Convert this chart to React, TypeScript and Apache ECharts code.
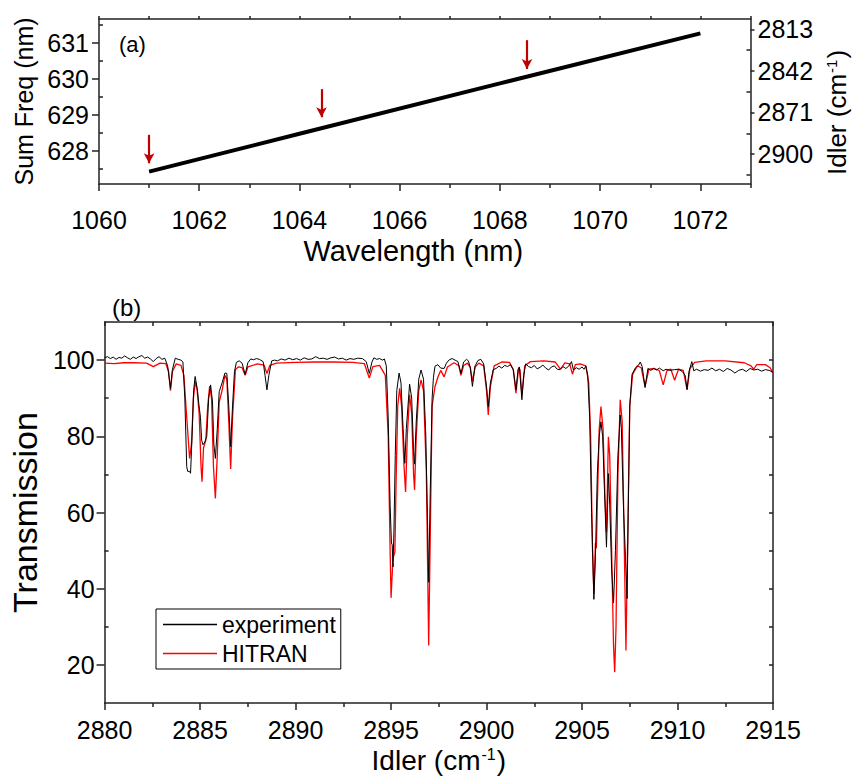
import React, { useEffect, useRef } from "react";
import * as echarts from "echarts";

// ---- Panel (a): sum frequency vs pump wavelength ----
const pumpWavelength = [1061, 1064, 1068, 1072];
const sumFrequency = [627.42, 628.47, 629.87, 631.26];
const arrowWavelength = [1061, 1064.44, 1068.54];
const arrowTop = [628.44, 629.71, 631.07];
const arrowTip = [627.65, 628.93, 630.27];
const wavelengthTicks = [1060, 1062, 1064, 1066, 1068, 1070, 1072];
const wavelengthMinor = [1061, 1063, 1065, 1067, 1069, 1071, 1073];
const sumFreqTicks = [628, 629, 630, 631];
const sumFreqMinor = [627.5, 628.5, 629.5, 630.5, 631.5];
const idlerTicks = [2813, 2842, 2871, 2900];
const idlerMinor = [2827.5, 2856.5, 2885.5, 2914.5];

// ---- Panel (b): transmission spectra ----
const transTicks = [20, 40, 60, 80, 100];
const transMinor = [30, 50, 70, 90];
const transRight = [20, 30, 40, 50, 60, 70, 80, 90, 100];

const hitranData: [number, number][] = [
  [2880, 99.2], [2880.5, 99.1], [2881, 99.3], [2881.5, 99.3], [2882.2, 99.2], [2882.55, 98.3], [2882.9, 99.2],
  [2883.2, 99.1], [2883.35, 97], [2883.45, 92.0], [2883.55, 97], [2883.75, 99.0], [2884.0, 98.6], [2884.15, 96],
  [2884.3, 85], [2884.45, 74.2], [2884.55, 78], [2884.65, 90], [2884.75, 94.4], [2884.85, 92], [2884.95, 86],
  [2885.05, 72], [2885.1, 68.1], [2885.18, 77], [2885.3, 79], [2885.4, 88], [2885.5, 93.2], [2885.6, 90],
  [2885.7, 72], [2885.8, 63.7], [2885.9, 75], [2886.0, 89], [2886.15, 92], [2886.3, 96], [2886.4, 95],
  [2886.5, 84], [2886.6, 71.4], [2886.7, 85], [2886.85, 97.5], [2887.0, 98.2], [2887.2, 98.0], [2887.36, 96.0],
  [2887.5, 98.2], [2888.0, 99.0], [2888.35, 98.7], [2888.5, 96.5], [2888.65, 98.6], [2889, 99.2], [2890, 99.4],
  [2891, 99.5], [2892, 99.5], [2893, 99.4], [2893.6, 99.1], [2893.86, 95.3], [2894.05, 98.3], [2894.4, 98.6],
  [2894.7, 96], [2894.85, 80], [2894.95, 50], [2895.0, 37.6], [2895.1, 48], [2895.2, 49.6], [2895.27, 70],
  [2895.35, 88], [2895.45, 92.6], [2895.55, 88], [2895.68, 72], [2895.76, 65.4], [2895.85, 80], [2895.97, 90.9],
  [2896.08, 86], [2896.18, 70], [2896.23, 65.9], [2896.32, 80], [2896.45, 92], [2896.57, 94.8], [2896.7, 92],
  [2896.85, 70], [2896.97, 25.1], [2897.07, 60], [2897.15, 88], [2897.3, 93], [2897.45, 95.5], [2897.6, 97.3],
  [2897.78, 95.6], [2897.95, 98.2], [2898.3, 99.3], [2898.55, 98.5], [2898.66, 96.0], [2898.8, 98.6], [2899.0, 99.2],
  [2899.15, 98], [2899.26, 94.4], [2899.4, 98.2], [2899.6, 99.2], [2899.85, 98.5], [2900.0, 92], [2900.09, 85.6],
  [2900.2, 93], [2900.4, 98.5], [2900.8, 99.5], [2901.2, 99.4], [2901.4, 97.5], [2901.54, 91.3], [2901.68, 98],
  [2901.75, 97.5], [2901.85, 90.9], [2902.0, 98.5], [2902.3, 99.6], [2903, 99.8], [2903.6, 99.5], [2903.87, 97.6],
  [2904.1, 99.3], [2904.35, 99.0], [2904.5, 96.3], [2904.65, 98.8], [2904.9, 99.0], [2905.2, 98.5], [2905.35, 94],
  [2905.45, 80], [2905.55, 50], [2905.62, 38.6], [2905.7, 52], [2905.75, 50.6], [2905.8, 62], [2905.9, 82],
  [2905.99, 87.8], [2906.1, 82], [2906.2, 64], [2906.28, 54.8], [2906.35, 72], [2906.38, 79.9], [2906.45, 75],
  [2906.55, 50], [2906.65, 25], [2906.71, 18.1], [2906.78, 30], [2906.88, 70], [2907.0, 89.6], [2907.1, 84],
  [2907.2, 55], [2907.3, 23.8], [2907.38, 50], [2907.5, 88], [2907.65, 96.3], [2907.9, 98.5], [2908.1, 98.0],
  [2908.3, 93.1], [2908.5, 97.6], [2908.8, 97.8], [2909.05, 97.2], [2909.25, 93.5], [2909.45, 97.3], [2909.65, 97.6],
  [2909.85, 94.7], [2910.05, 97.6], [2910.3, 97.3], [2910.5, 92.2], [2910.65, 97.8], [2910.9, 99.4], [2911.5, 99.8],
  [2912.5, 99.8], [2913.5, 99.3], [2913.85, 98.5], [2913.99, 97.6], [2914.15, 98.8], [2914.6, 98.8], [2914.85, 98],
  [2915, 96.5],
];

const experimentData: [number, number][] = [
  [2880, 100.6], [2880.15, 100.9], [2880.3, 100.4], [2880.45, 100.8], [2880.6, 100.2], [2880.75, 100.7],
  [2880.9, 100.5], [2881.05, 101.1], [2881.2, 100.6], [2881.35, 100.2], [2881.5, 100.8], [2881.65, 100.4],
  [2881.8, 100.9], [2881.95, 101.2], [2882.1, 100.5], [2882.25, 100.8], [2882.4, 100.3], [2882.55, 99.6],
  [2882.7, 100.4], [2882.85, 100.9], [2883.0, 100.2], [2883.15, 100.5], [2883.3, 98.5], [2883.45, 92.5],
  [2883.55, 97.5], [2883.7, 100.5], [2883.85, 100.2], [2884.0, 100.0], [2884.1, 99.5], [2884.2, 90],
  [2884.3, 72], [2884.35, 70.8], [2884.45, 70.8], [2884.5, 70.3], [2884.58, 80], [2884.66, 92], [2884.74, 95.7],
  [2884.85, 92.5], [2884.94, 88.2], [2885.02, 85], [2885.08, 79], [2885.15, 77.8], [2885.25, 78.5], [2885.35, 80],
  [2885.45, 90], [2885.55, 93.5], [2885.65, 89], [2885.72, 78], [2885.8, 74.2], [2885.9, 82], [2886.0, 91.7],
  [2886.15, 94], [2886.3, 96.6], [2886.4, 96.5], [2886.5, 88], [2886.6, 77.3], [2886.7, 88], [2886.8, 97],
  [2886.9, 99.4], [2887.05, 99.8], [2887.2, 99.2], [2887.36, 96.2], [2887.5, 99.3], [2887.65, 100.3],
  [2887.8, 100.1], [2887.95, 100.4], [2888.1, 100.2], [2888.3, 99.6], [2888.4, 96], [2888.5, 92.2], [2888.6, 96],
  [2888.75, 99.8], [2888.9, 100.0], [2889.05, 99.8], [2889.25, 100.3], [2889.45, 100.0], [2889.65, 100.5],
  [2889.85, 100.1], [2890.05, 100.4], [2890.25, 100.0], [2890.45, 100.6], [2890.65, 100.2], [2890.85, 100.3],
  [2891.05, 100.9], [2891.25, 100.4], [2891.45, 100.5], [2891.65, 100.2], [2891.85, 100.6], [2892.05, 100.8],
  [2892.25, 100.3], [2892.45, 100.5], [2892.65, 100.0], [2892.85, 100.4], [2893.05, 100.2], [2893.25, 100.5],
  [2893.5, 100.4], [2893.7, 99.6], [2893.86, 96.5], [2894.0, 99.5], [2894.1, 100.6], [2894.25, 100.2],
  [2894.4, 100.4], [2894.55, 100.0], [2894.65, 100.3], [2894.75, 98.5], [2894.85, 85], [2894.95, 62],
  [2895.02, 52], [2895.06, 51.5], [2895.1, 45.7], [2895.15, 55], [2895.22, 75], [2895.3, 92], [2895.42, 96.6],
  [2895.52, 94], [2895.63, 82], [2895.72, 72.9], [2895.8, 82], [2895.97, 93.7], [2896.08, 90], [2896.18, 76],
  [2896.23, 72.7], [2896.32, 84], [2896.45, 95], [2896.57, 97.4], [2896.7, 95], [2896.82, 80], [2896.92, 55],
  [2896.97, 41.7], [2897.05, 65], [2897.15, 90], [2897.22, 95.5], [2897.3, 98.4], [2897.45, 98.8], [2897.6, 97.9],
  [2897.78, 97.8], [2897.9, 99.2], [2898.05, 100.1], [2898.2, 100.4], [2898.35, 100.0], [2898.5, 99.6],
  [2898.66, 96.5], [2898.8, 99.5], [2898.95, 100.2], [2899.05, 99.8], [2899.15, 98], [2899.26, 93.1],
  [2899.4, 98.5], [2899.55, 99.9], [2899.7, 100.2], [2899.85, 99.0], [2900.0, 93], [2900.09, 87.8], [2900.2, 94],
  [2900.35, 97.5], [2900.5, 97.8], [2900.65, 98.4], [2900.8, 97.9], [2900.95, 98.6], [2901.1, 98.3],
  [2901.25, 98.8], [2901.4, 97.5], [2901.54, 92.2], [2901.65, 97.5], [2901.72, 98.2], [2901.85, 89.6],
  [2901.95, 96], [2902.05, 99.0], [2902.2, 98.3], [2902.35, 98.0], [2902.5, 98.6], [2902.65, 97.7],
  [2902.8, 98.1], [2902.95, 98.7], [2903.1, 97.9], [2903.25, 97.4], [2903.4, 98.2], [2903.55, 98.5],
  [2903.7, 97.6], [2903.85, 97.5], [2904.0, 98.3], [2904.15, 97.8], [2904.3, 98.4], [2904.45, 99.6],
  [2904.55, 97.4], [2904.7, 98.0], [2904.85, 97.6], [2905.0, 98.2], [2905.1, 97.6], [2905.2, 98.4], [2905.3, 96],
  [2905.4, 85], [2905.5, 60], [2905.62, 37.2], [2905.7, 48], [2905.8, 70], [2905.9, 80], [2905.99, 83.8],
  [2906.08, 80], [2906.18, 65], [2906.28, 50.9], [2906.33, 60], [2906.38, 70.2], [2906.45, 62], [2906.55, 45],
  [2906.65, 36.3], [2906.75, 50], [2906.88, 75], [2907.0, 85.6], [2907.06, 82], [2907.1, 74.5], [2907.18, 60],
  [2907.3, 45], [2907.36, 37.4], [2907.42, 60], [2907.5, 88], [2907.62, 96.3], [2907.8, 98.0], [2907.95, 98.6],
  [2908.05, 99.5], [2908.15, 98.3], [2908.3, 92.8], [2908.45, 97.8], [2908.6, 97.3], [2908.75, 97.8],
  [2908.9, 97.4], [2909.05, 97.9], [2909.25, 97.2], [2909.4, 97.6], [2909.6, 97.3], [2909.85, 97.5],
  [2910.05, 97.6], [2910.25, 97.0], [2910.4, 96], [2910.5, 92.3], [2910.6, 97], [2910.75, 99.6], [2910.85, 97.2],
  [2911.0, 97.6], [2911.2, 97.1], [2911.4, 97.5], [2911.6, 97.3], [2911.8, 97.9], [2912.0, 97.2], [2912.2, 97.6],
  [2912.4, 97.0], [2912.6, 97.8], [2912.8, 97.4], [2913.0, 96.6], [2913.2, 97.3], [2913.4, 97.6], [2913.6, 97.0],
  [2913.8, 97.8], [2914.0, 97.4], [2914.2, 97.6], [2914.4, 97.1], [2914.6, 97.5], [2914.8, 97.3], [2915, 96.8],
];

const FONT = "'Liberation Sans', Arial, sans-serif";
const AX = "#222";

export default function App() {
  const ref = useRef<HTMLDivElement>(null);
  useEffect(() => {
    document.body.style.margin = "0";
    if (!ref.current) return;
    const chart = echarts.init(ref.current, undefined, { renderer: "svg" });
    const axisLine = { show: true, onZero: false, lineStyle: { color: AX, width: 1.5 } };
    const noLine = { show: false, onZero: false };
    const tickStyle = { color: AX, width: 1.5 };
    const plain = (v: number) => String(v);
    const lbl = { color: "#000", fontSize: 25, fontFamily: FONT, formatter: plain };

    const sumLine = pumpWavelength.map((w, i) => [w, sumFrequency[i]]);
    const arrows = arrowWavelength.map((w, i) => [
      { coord: [w, arrowTop[i]] },
      { coord: [w, arrowTip[i]] },
    ]);

    chart.setOption({
      animation: false,
      grid: [
        { left: 99, right: 92, top: 19, height: 165 },
        { left: 97, right: 85, top: 322, height: 381 },
      ],
      xAxis: [
        {
          gridIndex: 0, type: "value", position: "bottom", min: 1060, max: 1073,
          axisLine, splitLine: { show: false },
          axisTick: { length: 7, lineStyle: tickStyle, customValues: wavelengthTicks },
          axisLabel: { ...lbl, margin: 23, customValues: wavelengthTicks },
          name: "Wavelength (nm)", nameLocation: "middle", nameGap: 52,
          nameTextStyle: { color: "#000", fontSize: 29, fontFamily: FONT, padding: [0, 23, 0, 0] },
        },
        {
          gridIndex: 0, type: "value", position: "bottom", min: 1060, max: 1073,
          axisLine: noLine, splitLine: { show: false },
          axisTick: { length: 4, lineStyle: tickStyle, customValues: wavelengthMinor },
          axisLabel: { show: false },
        },
        {
          gridIndex: 0, type: "value", position: "top", min: 1060, max: 1073,
          axisLine, splitLine: { show: false },
          axisTick: { length: 3, lineStyle: tickStyle, customValues: wavelengthMinor.concat(wavelengthTicks) },
          axisLabel: { show: false },
        },
        {
          gridIndex: 1, type: "value", position: "bottom", min: 2880, max: 2915, interval: 5,
          axisLine, splitLine: { show: false },
          axisTick: { length: 7, lineStyle: tickStyle },
          minorTick: { show: true, splitNumber: 2, length: 4, lineStyle: tickStyle },
          axisLabel: { ...lbl, margin: 14 },
          name: "Idler (cm{sup|-1})", nameLocation: "middle", nameGap: 43,
          nameTextStyle: {
            color: "#000", fontSize: 28, fontFamily: FONT,
            rich: { sup: { fontSize: 16, fontFamily: FONT, color: "#000", verticalAlign: "top", padding: [0, 1, 12, 1] } },
          },
        },
        {
          gridIndex: 1, type: "value", position: "top", min: 2880, max: 2915, interval: 2.5,
          axisLine, splitLine: { show: false },
          axisTick: { inside: true, length: 4, lineStyle: tickStyle },
          axisLabel: { show: false },
        },
      ],
      yAxis: [
        {
          gridIndex: 0, type: "value", position: "left", min: 627.075, max: 631.658,
          axisLine, splitLine: { show: false },
          axisTick: { length: 7, lineStyle: tickStyle, customValues: sumFreqTicks },
          axisLabel: { ...lbl, margin: 10, customValues: sumFreqTicks },
          name: "Sum Freq (nm)", nameLocation: "middle", nameGap: 60, nameRotate: 90,
          nameTextStyle: { color: "#000", fontSize: 25, fontFamily: FONT },
        },
        {
          gridIndex: 0, type: "value", position: "left", min: 627.075, max: 631.658,
          axisLine: noLine, splitLine: { show: false },
          axisTick: { inside: true, length: 4, lineStyle: tickStyle, customValues: sumFreqMinor },
          axisLabel: { show: false },
        },
        {
          gridIndex: 0, type: "value", position: "right", min: 2805.8, max: 2920.9, inverse: true,
          axisLine, splitLine: { show: false },
          axisTick: { length: 4, lineStyle: tickStyle, customValues: idlerTicks },
          axisLabel: { ...lbl, margin: 7, customValues: idlerTicks },
          name: "Idler (cm{sup|-1})", nameLocation: "middle", nameGap: 73, nameRotate: 90,
          nameTextStyle: {
            color: "#000", fontSize: 26, fontFamily: FONT, padding: [0, 22, 0, 0],
            rich: { sup: { fontSize: 15, fontFamily: FONT, color: "#000", verticalAlign: "top", padding: [0, 1, 11, 1] } },
          },
        },
        {
          gridIndex: 0, type: "value", position: "right", min: 2805.8, max: 2920.9, inverse: true,
          axisLine: noLine, splitLine: { show: false },
          axisTick: { inside: true, length: 4, lineStyle: tickStyle, customValues: idlerMinor },
          axisLabel: { show: false },
        },
        {
          gridIndex: 1, type: "value", position: "left", min: 10, max: 110,
          axisLine, splitLine: { show: false },
          axisTick: { length: 8, lineStyle: tickStyle, customValues: transTicks },
          axisLabel: { ...lbl, margin: 10, customValues: transTicks },
          name: "Transmission", nameLocation: "middle", nameGap: 47, nameRotate: 90,
          nameTextStyle: { color: "#000", fontSize: 34, fontFamily: FONT },
        },
        {
          gridIndex: 1, type: "value", position: "left", min: 10, max: 110,
          axisLine: noLine, splitLine: { show: false },
          axisTick: { inside: true, length: 4, lineStyle: tickStyle, customValues: transMinor },
          axisLabel: { show: false },
        },
        {
          gridIndex: 1, type: "value", position: "right", min: 10, max: 110,
          axisLine, splitLine: { show: false },
          axisTick: { inside: true, length: 4, lineStyle: tickStyle, customValues: transRight },
          axisLabel: { show: false },
        },
      ],
      legend: {
        orient: "vertical", left: 156, top: 609,
        data: ["experiment", "HITRAN"],
        icon: "rect", itemWidth: 54, itemHeight: 1.5, itemGap: 4,
        padding: [3, 5, 3, 7],
        borderColor: "#000", borderWidth: 1, borderRadius: 0, backgroundColor: "#fff",
        textStyle: { color: "#000", fontSize: 23, fontFamily: FONT, lineHeight: 25 },
      },
      graphic: [
        { type: "text", left: 119, top: 33, style: { text: "(a)", fontSize: 22, fontFamily: FONT, fill: "#000" } },
        { type: "text", left: 112, top: 295, style: { text: "(b)", fontSize: 24, fontFamily: FONT, fill: "#000" } },
      ],
      series: [
        {
          type: "line", name: "sum", xAxisIndex: 0, yAxisIndex: 0, data: sumLine,
          showSymbol: false, symbol: "none", lineStyle: { color: "#000", width: 4 },
          markLine: {
            silent: true, symbol: ["none", "arrow"], symbolSize: [8, 10],
            label: { show: false },
            lineStyle: { color: "#c00000", width: 2.2, type: "solid" },
            data: arrows,
          },
        },
        {
          type: "line", name: "HITRAN", xAxisIndex: 3, yAxisIndex: 4, data: hitranData,
          showSymbol: false, symbol: "none",
          lineStyle: { color: "#ff0000", width: 1.3 }, itemStyle: { color: "#ff0000" },
        },
        {
          type: "line", name: "experiment", xAxisIndex: 3, yAxisIndex: 4, data: experimentData,
          showSymbol: false, symbol: "none",
          lineStyle: { color: "#000", width: 1 }, itemStyle: { color: "#000" },
        },
      ],
    });
    return () => chart.dispose();
  }, []);
  return <div ref={ref} style={{ width: 858, height: 776 }} />;
}
